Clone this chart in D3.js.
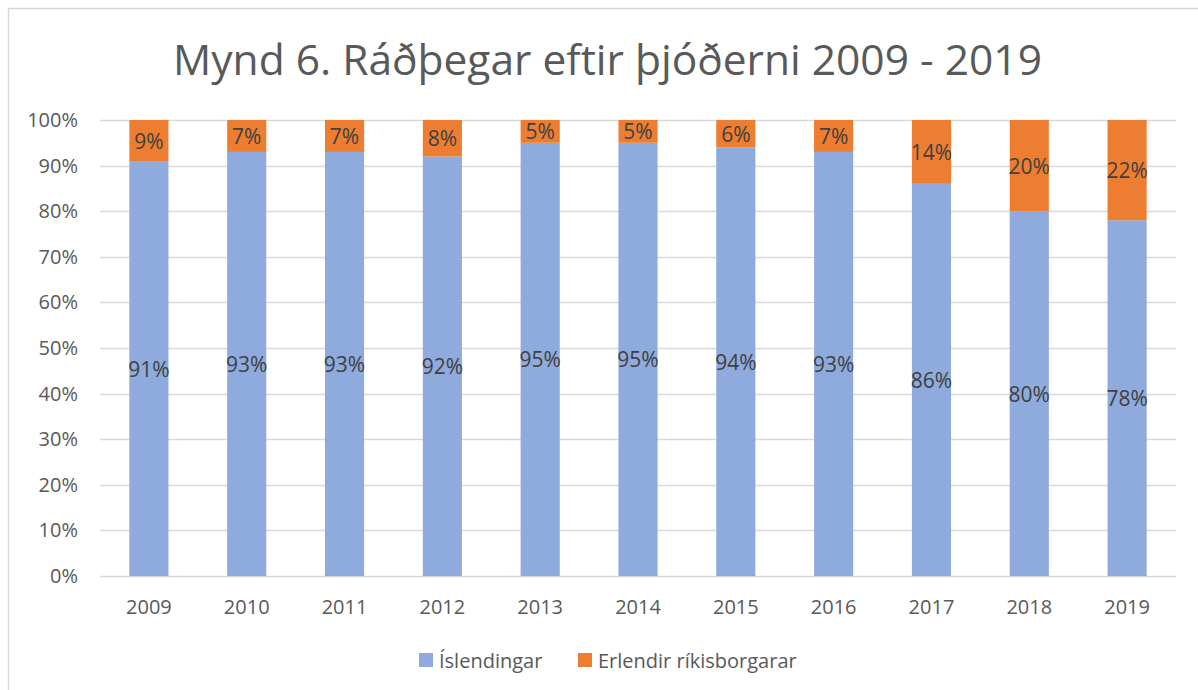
<!DOCTYPE html>
<html>
<head>
<meta charset="utf-8">
<script src="https://cdn.jsdelivr.net/npm/d3@7"></script>
<style>
  html, body { margin: 0; padding: 0; background: #fff; }
  svg { display: block; font-family: "Open Sans", "Noto Sans", sans-serif; }
</style>
</head>
<body>
<div id="chart"></div>
<script>
/* data */
var years = ['2009', '2010', '2011', '2012', '2013', '2014', '2015', '2016', '2017', '2018', '2019'];
var islendingar = [91, 93, 93, 92, 95, 95, 94, 93, 86, 80, 78];
var erlendir = [9, 7, 7, 8, 5, 5, 6, 7, 14, 20, 22];
var seriesNames = ['Íslendingar', 'Erlendir ríkisborgarar'];
var yTicks = [0, 10, 20, 30, 40, 50, 60, 70, 80, 90, 100];
var titleText = 'Mynd 6. Ráðþegar eftir þjóðerni 2009 - 2019';

var W = 1198, H = 690;
var colors = ['#8FAADC', '#ED7D31'];

var svg = d3.select('#chart').append('svg')
  .attr('width', W).attr('height', H);

/* chart frame, runs off the right and bottom edges like the reference */
svg.append('rect')
  .attr('x', 8.5).attr('y', 8.5)
  .attr('width', W + 20).attr('height', H + 20)
  .attr('fill', '#fff')
  .attr('stroke', '#D9D9D9')
  .attr('stroke-width', 1.5);

var plot = { left: 100, right: 1176, top: 120, bottom: 576 };

var x = d3.scaleBand()
  .domain(years)
  .range([plot.left, plot.right])
  .paddingInner(0.6)
  .paddingOuter(0.3);

var y = d3.scaleLinear()
  .domain([0, 100])
  .range([plot.bottom, plot.top]);

/* gridlines */
svg.append('g').selectAll('line')
  .data(yTicks)
  .join('line')
  .attr('x1', plot.left).attr('x2', plot.right)
  .attr('y1', function (d) { return Math.round(y(d)) + 0.5; })
  .attr('y2', function (d) { return Math.round(y(d)) + 0.5; })
  .attr('stroke', '#D9D9D9')
  .attr('stroke-width', 1.5);

/* y axis labels */
var yAxis = svg.append('g')
  .attr('transform', 'translate(' + (plot.left - 22) + ',0)')
  .call(d3.axisLeft(y).tickValues(yTicks).tickSize(0).tickPadding(0)
    .tickFormat(function (d) { return d + '%'; }));
yAxis.select('.domain').remove();
yAxis.selectAll('text')
  .attr('fill', '#595959')
  .style('font-size', '20px')
  .style('font-family', '"Open Sans", sans-serif');

/* x axis labels */
var xAxis = svg.append('g')
  .attr('transform', 'translate(0,' + plot.bottom + ')')
  .call(d3.axisBottom(x).tickSize(0).tickPadding(24));
xAxis.select('.domain').remove();
xAxis.selectAll('text')
  .attr('fill', '#595959')
  .style('font-size', '20px')
  .style('font-family', '"Open Sans", sans-serif');

/* stack */
var rows = years.map(function (yr, i) {
  return { year: yr, a: islendingar[i], b: erlendir[i] };
});
var stack = d3.stack().keys(['a', 'b'])(rows);

var layers = svg.append('g').selectAll('g')
  .data(stack)
  .join('g')
  .attr('fill', function (d, i) { return colors[i]; });

layers.selectAll('rect')
  .data(function (d) { return d; })
  .join('rect')
  .attr('x', function (d) { return x(d.data.year); })
  .attr('width', x.bandwidth())
  .attr('y', function (d) { return y(d[1]); })
  .attr('height', function (d) { return y(d[0]) - y(d[1]); });

/* data labels */
layers.selectAll('text')
  .data(function (d) { return d; })
  .join('text')
  .attr('x', function (d) { return x(d.data.year) + x.bandwidth() / 2; })
  .attr('y', function (d) { return y((d[0] + d[1]) / 2); })
  .attr('text-anchor', 'middle')
  .attr('dominant-baseline', 'central')
  .attr('fill', '#404040')
  .style('font-size', '21px')
  .text(function (d) { return (d[1] - d[0]) + '%'; });

/* title */
svg.append('text')
  .attr('x', (175 + 1040) / 2)
  .attr('y', 75)
  .attr('text-anchor', 'middle')
  .attr('fill', '#595959')
  .style('font-size', '42.5px')
  .text(titleText);

/* legend */
var legend = svg.append('g');
var legendX = [419, 578];
seriesNames.forEach(function (name, i) {
  legend.append('rect')
    .attr('x', legendX[i]).attr('y', 653)
    .attr('width', 14).attr('height', 14)
    .attr('fill', colors[i]);
  legend.append('text')
    .attr('x', legendX[i] + 20).attr('y', 660)
    .attr('dominant-baseline', 'central')
    .attr('fill', '#595959')
    .style('font-size', '20px')
    .text(name);
});
</script>
</body>
</html>
